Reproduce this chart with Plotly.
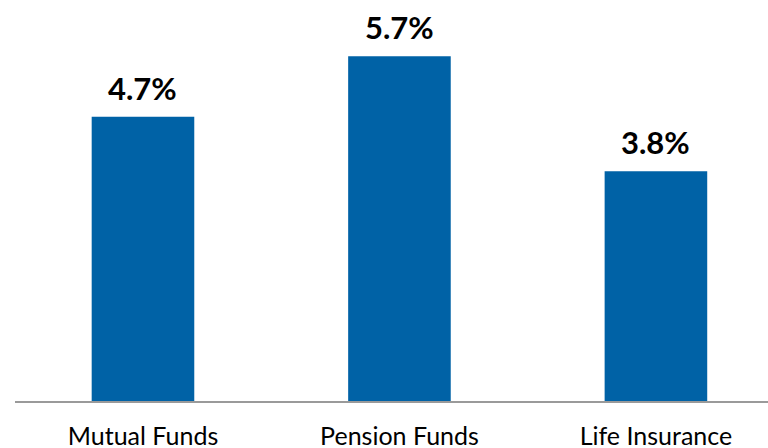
import plotly.graph_objects as go

categories = ["Mutual Funds", "Pension Funds", "Life Insurance"]
values = [4.7, 5.7, 3.8]
labels = ["4.7%", "5.7%", "3.8%"]

fig = go.Figure(go.Bar(
    x=categories, y=values,
    marker=dict(color="#0062A6", line=dict(width=0)),
    width=0.4,
    hoverinfo="skip",
))
for c, v, t in zip(categories, values, labels):
    fig.add_annotation(
        x=c, y=v, text=t, showarrow=False,
        xanchor="center", yanchor="bottom", yshift=8,
        font=dict(family="Lato", size=31, color="#000000", weight="bold"),
    )
fig.update_layout(
    width=768, height=448,
    margin=dict(l=15, r=0, t=0, b=47),
    paper_bgcolor="white", plot_bgcolor="white",
    showlegend=False,
)
fig.update_xaxes(
    range=[-0.499, 2.437],
    automargin=False,
    showline=True, linecolor="#9a9a9a", linewidth=1.5,
    showgrid=False, ticks="", ticklen=0,
    ticklabelstandoff=12,
    tickfont=dict(family="Lato", size=25, color="#000000"),
)
fig.update_yaxes(range=[0, 6.63], visible=False, showgrid=False, automargin=False)
fig.write_html("out.html", config={"displayModeBar": False},
               post_script="document.body.style.margin='0';")
